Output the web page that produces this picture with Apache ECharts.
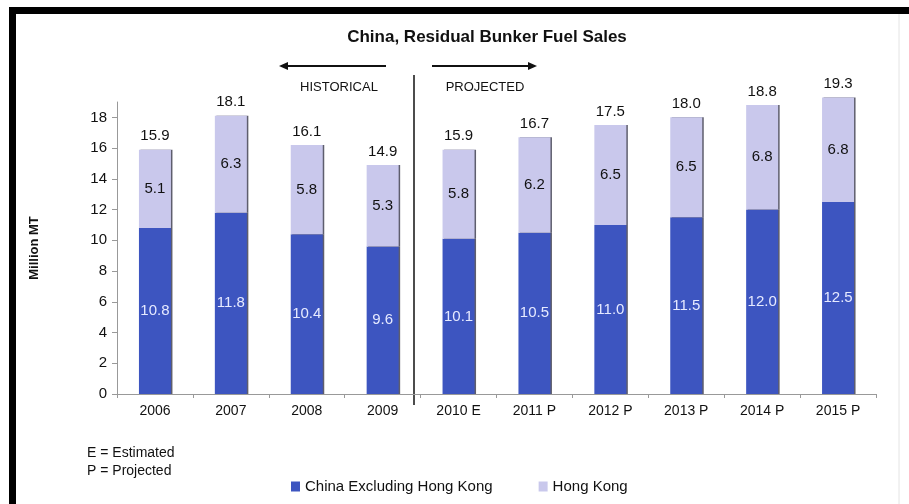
<!DOCTYPE html>
<html>
<head>
<meta charset="utf-8">
<script src="https://cdn.jsdelivr.net/npm/echarts@6/dist/echarts.min.js"></script>
<style>
html,body{margin:0;padding:0;background:#fff;}
#main{width:909px;height:504px;}
</style>
</head>
<body>
<div id="main"></div>
<script>
var categories = ['2006','2007','2008','2009','2010 E','2011 P','2012 P','2013 P','2014 P','2015 P'];
var chinaExHK = [10.8, 11.8, 10.4, 9.6, 10.1, 10.5, 11.0, 11.5, 12.0, 12.5];
var hongKong = [5.1, 6.3, 5.8, 5.3, 5.8, 6.2, 6.5, 6.5, 6.8, 6.8];
var totals = [15.9, 18.1, 16.1, 14.9, 15.9, 16.7, 17.5, 18.0, 18.8, 19.3];
var yTicks = [0, 2, 4, 6, 8, 10, 12, 14, 16, 18];

var FONT = 'Liberation Sans, Arial, sans-serif';
var chart = echarts.init(document.getElementById('main'));
var shadow = {shadowColor: 'rgba(40,40,60,0.75)', shadowBlur: 0, shadowOffsetX: 1.5, shadowOffsetY: 0};

chart.setOption({
  backgroundColor: '#ffffff',
  animation: false,
  title: {
    text: 'China, Residual Bunker Fuel Sales',
    left: 482, top: 24, textAlign: 'center',
    textStyle: {fontFamily: 'Liberation Sans Narrow, Arial Narrow, ' + FONT, fontWeight: 'bold', fontSize: 17, color: '#111'}
  },
  grid: {left: 117, right: 33, top: 102, bottom: 110, containLabel: false},
  legend: {
    data: ['China Excluding Hong Kong', 'Hong Kong'],
    left: 286, top: 474,
    itemWidth: 9, itemHeight: 10, itemGap: 46,
    icon: 'rect',
    textStyle: {fontFamily: FONT, fontSize: 15, color: '#111'}
  },
  xAxis: {
    type: 'category',
    data: categories,
    axisLine: {lineStyle: {color: '#999', width: 1}},
    axisTick: {show: true, length: 4, lineStyle: {color: '#999'}},
    axisLabel: {fontFamily: FONT, fontSize: 14, color: '#111', margin: 10}
  },
  yAxis: {
    type: 'value',
    min: 0, max: 19,
    name: 'Million MT',
    nameLocation: 'middle',
    nameGap: 76,
    nameRotate: 90,
    nameTextStyle: {fontFamily: FONT, fontWeight: 'bold', fontSize: 13, color: '#111'},
    splitLine: {show: false},
    axisLine: {show: true, lineStyle: {color: '#999'}},
    axisTick: {show: true, length: 5, lineStyle: {color: '#999'}, customValues: yTicks},
    axisLabel: {fontFamily: FONT, fontSize: 15, color: '#111', margin: 10, customValues: yTicks}
  },
  series: [
    {
      name: 'China Excluding Hong Kong', type: 'bar', stack: 'a', clip: false,
      data: chinaExHK, barWidth: 32,
      itemStyle: Object.assign({color: '#3d55c0'}, shadow),
      label: {show: true, position: 'inside', fontFamily: FONT, fontSize: 15, color: '#e6eaff',
        formatter: function(p){ return p.value.toFixed(1); }}
    },
    {
      name: 'Hong Kong', type: 'bar', stack: 'a', clip: false,
      data: hongKong, barWidth: 32,
      itemStyle: Object.assign({color: '#c9c8ec'}, shadow),
      label: {show: true, position: 'inside', fontFamily: FONT, fontSize: 15, color: '#111',
        formatter: function(p){ return p.value.toFixed(1); }}
    },
    {
      name: 'Total', type: 'bar', stack: 'a', clip: false,
      data: totals.map(function(){ return 0; }), barWidth: 32,
      itemStyle: {color: 'transparent'},
      label: {show: true, position: 'top', distance: 6, fontFamily: FONT, fontSize: 15, color: '#111',
        formatter: function(p){ return totals[p.dataIndex].toFixed(1); }}
    }
  ],
  graphic: [
    {type: 'rect', shape: {x: 9, y: 7, width: 900, height: 7}, style: {fill: '#000'}},
    {type: 'rect', shape: {x: 9, y: 7, width: 7, height: 497}, style: {fill: '#000'}},
    {type: 'line', shape: {x1: 899, y1: 14, x2: 899, y2: 504}, style: {stroke: '#e4e4e4', lineWidth: 1}},
    {type: 'line', shape: {x1: 414, y1: 75, x2: 414, y2: 405}, style: {stroke: '#111', lineWidth: 1.5}},
    {type: 'line', shape: {x1: 286, y1: 66, x2: 386, y2: 66}, style: {stroke: '#111', lineWidth: 2}},
    {type: 'polygon', shape: {points: [[279, 66], [288, 62], [288, 70]]}, style: {fill: '#111'}},
    {type: 'line', shape: {x1: 432, y1: 66, x2: 530, y2: 66}, style: {stroke: '#111', lineWidth: 2}},
    {type: 'polygon', shape: {points: [[537, 66], [528, 62], [528, 70]]}, style: {fill: '#111'}},
    {type: 'text', x: 339, y: 87, style: {text: 'HISTORICAL', fontFamily: FONT, fontSize: 13, fill: '#111', align: 'center', verticalAlign: 'middle'}},
    {type: 'text', x: 485, y: 87, style: {text: 'PROJECTED', fontFamily: FONT, fontSize: 13, fill: '#111', align: 'center', verticalAlign: 'middle'}},
    {type: 'text', x: 87, y: 453, style: {text: 'E = Estimated', fontFamily: FONT, fontSize: 14, fill: '#111', align: 'left', verticalAlign: 'middle'}},
    {type: 'text', x: 87, y: 471, style: {text: 'P = Projected', fontFamily: FONT, fontSize: 14, fill: '#111', align: 'left', verticalAlign: 'middle'}}
  ]
});
</script>
</body>
</html>
